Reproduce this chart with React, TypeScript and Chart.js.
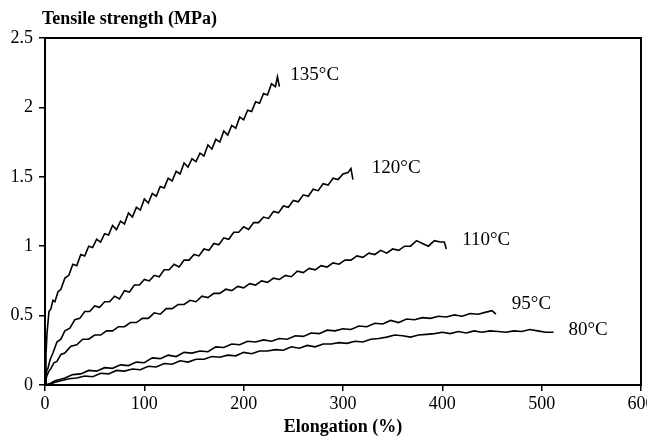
import React, { useEffect, useRef } from "react";
import { Chart, registerables } from "chart.js";

Chart.register(...registerables);

const X_TICKS = [0, 100, 200, 300, 400, 500, 600];
const Y_TICKS = [0, 0.5, 1, 1.5, 2, 2.5];

const LABELS = ["135°C", "120°C", "110°C", "95°C", "80°C"];

const X135 = [0, 1, 2, 3, 4, 6, 8, 10, 13, 16, 20, 24, 28, 32, 36, 40, 44, 48, 52, 56, 60, 64, 68, 72, 76, 80, 84, 88, 92, 96, 100, 104, 108, 112, 116, 120, 124, 128, 132, 136, 140, 144, 148, 152, 156, 160, 164, 168, 172, 176, 180, 184, 188, 192, 196, 200, 204, 208, 212, 216, 220, 224, 228, 232, 234, 236];
const Y135 = [0, 0.22, 0.37, 0.45, 0.53, 0.55, 0.61, 0.6, 0.67, 0.69, 0.77, 0.79, 0.87, 0.86, 0.94, 0.93, 1.0, 0.99, 1.05, 1.03, 1.09, 1.08, 1.15, 1.12, 1.18, 1.16, 1.24, 1.21, 1.28, 1.26, 1.34, 1.31, 1.38, 1.36, 1.43, 1.42, 1.49, 1.47, 1.54, 1.52, 1.6, 1.57, 1.63, 1.61, 1.67, 1.65, 1.73, 1.7, 1.77, 1.75, 1.83, 1.8, 1.87, 1.85, 1.93, 1.91, 1.98, 1.97, 2.04, 2.03, 2.1, 2.09, 2.17, 2.15, 2.22, 2.15];

const X120 = [0, 1, 2, 3, 5, 8, 12, 16, 20, 25, 30, 35, 40, 45, 50, 55, 60, 65, 70, 75, 80, 85, 90, 95, 100, 105, 110, 115, 120, 125, 130, 135, 140, 145, 150, 155, 160, 165, 170, 175, 180, 185, 190, 195, 200, 205, 210, 215, 220, 225, 230, 235, 240, 245, 250, 255, 260, 265, 270, 275, 280, 285, 290, 295, 300, 305, 308, 310];
const Y120 = [0, 0.06, 0.11, 0.12, 0.18, 0.23, 0.31, 0.33, 0.39, 0.41, 0.47, 0.48, 0.53, 0.53, 0.57, 0.56, 0.6, 0.6, 0.64, 0.62, 0.68, 0.67, 0.72, 0.72, 0.76, 0.75, 0.79, 0.78, 0.83, 0.83, 0.87, 0.85, 0.9, 0.9, 0.94, 0.93, 0.98, 0.97, 1.02, 1.01, 1.06, 1.05, 1.1, 1.1, 1.14, 1.12, 1.17, 1.17, 1.21, 1.2, 1.25, 1.24, 1.29, 1.28, 1.33, 1.32, 1.37, 1.36, 1.41, 1.4, 1.45, 1.44, 1.49, 1.48, 1.52, 1.53, 1.56, 1.48];

const X110 = [0, 1, 2, 4, 6, 9, 12, 16, 20, 26, 32, 38, 44, 50, 56, 62, 68, 74, 80, 86, 92, 98, 104, 110, 116, 122, 128, 134, 140, 146, 152, 158, 164, 170, 176, 182, 188, 194, 200, 206, 212, 218, 224, 230, 236, 242, 248, 254, 260, 266, 272, 278, 284, 290, 296, 302, 308, 314, 320, 326, 332, 338, 344, 350, 356, 362, 368, 374, 380, 386, 392, 398, 402, 404];
const Y110 = [0, 0.04, 0.07, 0.1, 0.12, 0.16, 0.17, 0.22, 0.23, 0.28, 0.29, 0.33, 0.33, 0.36, 0.36, 0.39, 0.39, 0.42, 0.42, 0.45, 0.45, 0.48, 0.48, 0.52, 0.51, 0.55, 0.55, 0.58, 0.58, 0.61, 0.6, 0.64, 0.63, 0.66, 0.66, 0.69, 0.68, 0.71, 0.7, 0.73, 0.72, 0.75, 0.74, 0.77, 0.76, 0.79, 0.78, 0.82, 0.81, 0.84, 0.83, 0.86, 0.85, 0.88, 0.87, 0.9, 0.9, 0.93, 0.92, 0.95, 0.94, 0.97, 0.95, 0.98, 0.97, 1.0, 1.0, 1.04, 1.02, 1.0, 1.04, 1.03, 1.03, 0.98];

const X95 = [0, 5, 10, 15, 20, 28, 36, 44, 52, 60, 68, 76, 84, 92, 100, 108, 116, 124, 132, 140, 148, 156, 164, 172, 180, 188, 196, 204, 212, 220, 228, 236, 244, 252, 260, 268, 276, 284, 292, 300, 308, 316, 324, 332, 340, 348, 356, 364, 372, 380, 388, 396, 404, 412, 420, 428, 436, 444, 450, 454];
const Y95 = [0, 0.01, 0.03, 0.04, 0.05, 0.075, 0.08, 0.105, 0.1, 0.125, 0.12, 0.145, 0.14, 0.165, 0.16, 0.195, 0.19, 0.215, 0.205, 0.235, 0.23, 0.245, 0.24, 0.275, 0.27, 0.295, 0.29, 0.315, 0.31, 0.325, 0.315, 0.335, 0.33, 0.355, 0.35, 0.375, 0.37, 0.395, 0.39, 0.405, 0.4, 0.425, 0.42, 0.445, 0.44, 0.465, 0.45, 0.475, 0.47, 0.485, 0.48, 0.495, 0.49, 0.505, 0.495, 0.515, 0.51, 0.525, 0.535, 0.51];

const X80 = [0, 5, 10, 16, 24, 32, 40, 48, 56, 64, 72, 80, 88, 96, 104, 112, 120, 128, 136, 144, 152, 160, 168, 176, 184, 192, 200, 208, 216, 224, 232, 240, 248, 256, 264, 272, 280, 288, 296, 304, 312, 320, 328, 336, 344, 352, 360, 368, 376, 384, 392, 400, 408, 416, 424, 432, 440, 448, 456, 464, 472, 480, 488, 496, 504, 512];
const Y80 = [0, 0.005, 0.02, 0.03, 0.045, 0.05, 0.065, 0.06, 0.085, 0.08, 0.105, 0.1, 0.115, 0.11, 0.135, 0.13, 0.155, 0.15, 0.175, 0.165, 0.185, 0.185, 0.205, 0.2, 0.215, 0.21, 0.235, 0.225, 0.245, 0.245, 0.255, 0.25, 0.275, 0.265, 0.285, 0.275, 0.295, 0.295, 0.305, 0.3, 0.315, 0.31, 0.33, 0.335, 0.345, 0.36, 0.355, 0.345, 0.36, 0.365, 0.37, 0.38, 0.37, 0.385, 0.375, 0.39, 0.38, 0.39, 0.385, 0.38, 0.39, 0.385, 0.4, 0.39, 0.38, 0.38];

const LABEL_POS = [
  [247, 2.233],
  [329, 1.563],
  [420, 1.045],
  [470, 0.584],
  [527, 0.396],
];

function pts(xs: number[], ys: number[]) {
  return xs.map((x, i) => ({ x, y: ys[i] }));
}

const SERIF = "'Liberation Serif', 'DejaVu Serif', serif";

export default function App() {
  const ref = useRef<HTMLCanvasElement>(null);
  useEffect(() => {
    document.body.style.margin = "0";
    const canvas = ref.current!;
    const series = [
      pts(X135, Y135),
      pts(X120, Y120),
      pts(X110, Y110),
      pts(X95, Y95),
      pts(X80, Y80),
    ];
    const textPlugin = {
      id: "texts",
      afterDraw(chart: any) {
        const { ctx, chartArea, scales } = chart;
        ctx.save();
        ctx.strokeStyle = "#000";
        ctx.lineWidth = 2;
        ctx.strokeRect(chartArea.left, chartArea.top, chartArea.right - chartArea.left, chartArea.bottom - chartArea.top);
        ctx.fillStyle = "#000";
        ctx.font = `19px ${SERIF}`;
        ctx.textAlign = "left";
        ctx.textBaseline = "middle";
        LABELS.forEach((t, i) => {
          const [lx, ly] = LABEL_POS[i];
          ctx.fillText(t, scales.x.getPixelForValue(lx), scales.y.getPixelForValue(ly));
        });
        ctx.font = `bold 18px ${SERIF}`;
        ctx.textBaseline = "alphabetic";
        ctx.fillText("Tensile strength (MPa)", 42, 24);
        ctx.restore();
      },
    };
    const chart = new Chart(canvas, {
      type: "scatter",
      data: {
        datasets: series.map((d, i) => ({
          label: LABELS[i],
          data: d,
          showLine: true,
          borderColor: "#000",
          borderWidth: 1.6,
          pointRadius: 0,
          tension: 0,
        })),
      },
      options: {
        animation: false,
        responsive: false,
        layout: { padding: { top: 38, right: 6, left: 0, bottom: 0 } },
        plugins: { legend: { display: false }, tooltip: { enabled: false } },
        scales: {
          x: {
            type: "linear",
            min: 0,
            max: 600,
            afterFit(s: any) {
              s.height = 54;
              s.paddingLeft = 0;
              s.paddingRight = 0;
            },
            afterBuildTicks(s: any) {
              s.ticks = X_TICKS.map((v) => ({ value: v }));
            },
            grid: { display: true, drawOnChartArea: false, drawTicks: true, tickLength: 6, color: "#000", lineWidth: 1.5 },
            border: { display: true, color: "#000", width: 2 },
            ticks: { color: "#000", font: { family: SERIF, size: 18 }, padding: 2, maxRotation: 0, callback: (v: any) => String(v) },
            title: { display: true, text: "Elongation (%)", color: "#000", font: { family: SERIF, size: 18, weight: "bold" }, padding: { top: 0, bottom: 1 } },
          },
          y: {
            type: "linear",
            min: 0,
            max: 2.5,
            afterFit(s: any) {
              s.width = 45;
            },
            afterBuildTicks(s: any) {
              s.ticks = Y_TICKS.map((v) => ({ value: v }));
            },
            grid: { display: true, drawOnChartArea: false, drawTicks: true, tickLength: 6, color: "#000", lineWidth: 1.5 },
            border: { display: true, color: "#000", width: 2 },
            ticks: { color: "#000", font: { family: SERIF, size: 18 }, padding: 6, callback: (v: any) => String(v) },
          },
        },
      },
      plugins: [textPlugin],
    } as any);
    return () => chart.destroy();
  }, []);
  return <canvas ref={ref} width={647} height={439} style={{ display: "block" }} />;
}
